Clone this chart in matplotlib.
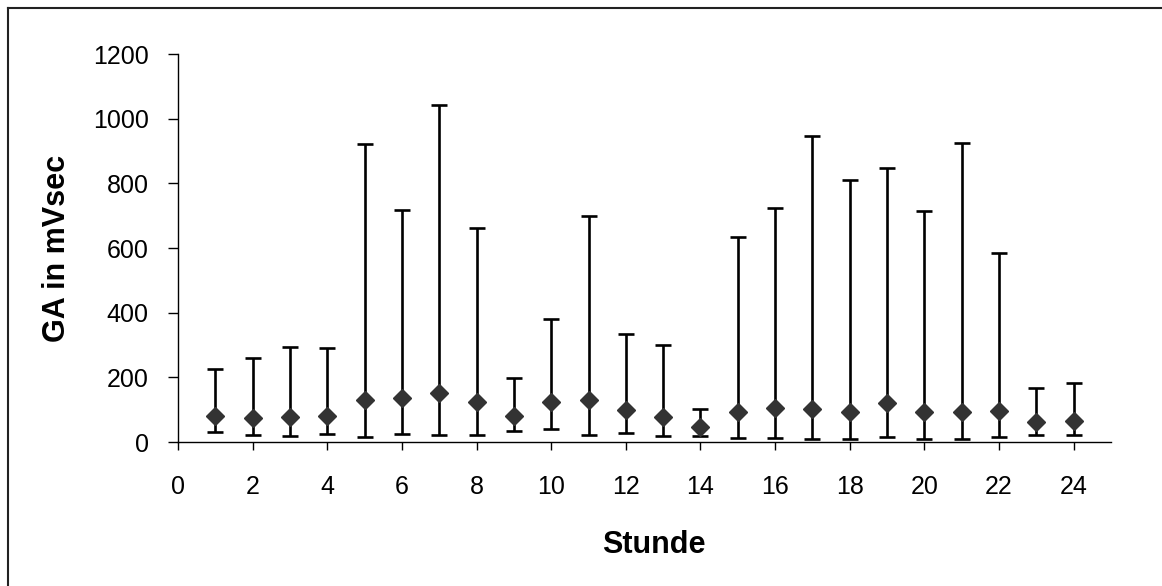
import numpy as np
import matplotlib
matplotlib.use("Agg")
import matplotlib.pyplot as plt
from matplotlib.lines import Line2D

plt.rcParams['font.family'] = ['Liberation Sans', 'DejaVu Sans']

# hourly values
stunde = list(range(1, 25))
mittel = [82, 75, 76, 82, 131, 136, 153, 123, 79, 124, 131, 98,
          78, 48, 93, 104, 102, 94, 122, 93, 94, 97, 62, 65]
oben = [225, 259, 295, 291, 923, 717, 1041, 663, 198, 379, 700, 335,
        301, 103, 633, 723, 947, 809, 846, 716, 926, 586, 166, 183]
unten = [30, 23, 18, 24, 17, 26, 23, 23, 33, 41, 23, 28,
         20, 20, 12, 13, 10, 10, 17, 10, 8, 16, 23, 23]

mittel = np.array(mittel)
err = [mittel - np.array(unten), np.array(oben) - mittel]

fig = plt.figure(figsize=(11.62, 5.86), dpi=100)
ax = fig.add_axes([0.1532, 0.2457, 0.8029, 0.6621])

ax.errorbar(stunde, mittel, yerr=err, fmt="none", ecolor="black",
            elinewidth=1.9, capsize=6, capthick=1.9, zorder=2)
ax.plot(stunde, mittel, linestyle="none", marker="D", markersize=9,
        color="#333333", zorder=3)

ax.set_xlim(0, 25)
ax.set_ylim(0, 1200)
ax.set_xticks(range(0, 25, 2))
ax.set_yticks(range(0, 1201, 200))
for s in ["top", "right"]:
    ax.spines[s].set_visible(False)
for s in ["left", "bottom"]:
    ax.spines[s].set_linewidth(1.0)
    ax.spines[s].set_color("black")
ax.tick_params(axis="x", direction="out", length=6, width=1, labelsize=18, pad=18)
ax.tick_params(axis="y", direction="out", length=7, width=1, labelsize=18, pad=14)

ax.set_xlabel("Stunde", fontsize=22, fontweight="bold", va="center")
ax.xaxis.set_label_coords(0.51, -0.2655)
ax.set_ylabel("GA in mVsec", fontsize=22, fontweight="bold", va="center")
ax.yaxis.set_label_coords(-0.1297, 0.5)

# outer frame (only top and left edges visible)
fig.add_artist(Line2D([7.5 / 1162, 1], [1 - 7.5 / 586, 1 - 7.5 / 586],
                      transform=fig.transFigure, color="#222222", lw=1.5))
fig.add_artist(Line2D([7.5 / 1162, 7.5 / 1162], [0, 1 - 7.5 / 586],
                      transform=fig.transFigure, color="#222222", lw=1.5))

fig.savefig("out.png", dpi=100)
